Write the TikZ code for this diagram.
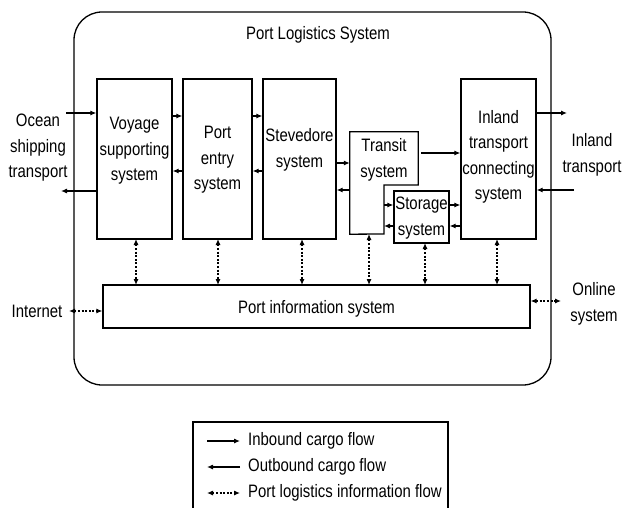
\documentclass[tikz,border=0pt]{standalone}
\usepackage{fontspec}
\setmainfont{Liberation Sans}[FakeStretch=0.83]
\usetikzlibrary{arrows.meta}
\tikzset{
  box/.style={draw, line width=1.3pt, inner sep=0pt},
  lbl/.style={align=center, font=\fontsize{18}{25.5}\selectfont, inner sep=0pt},
  arr/.style={line width=1.1pt, -{Latex[length=6pt,width=5pt]}},
  info/.style={line width=1.1pt, dash pattern=on 2pt off 1.6pt, {Latex[length=6pt,width=5pt]}-{Latex[length=6pt,width=5pt]}},
}
\begin{document}
\begin{tikzpicture}[x=1pt,y=-1pt]
\clip (0,0) rectangle (624,508);
\fill[white] (0,0) rectangle (624,508);
% outer
\node[box, rounded corners=28pt, minimum width=477pt, minimum height=373pt] (outer) at (312.5,198.5) {};
\node[lbl] (title) at (318,35) {Port Logistics System};
% boxes
\node[box, minimum width=75pt, minimum height=160pt] (voy) at (134.5,159) {};
\node[lbl] (voyt) at (134.5,151) {Voyage\\supporting\\system};
\node[box, minimum width=69pt, minimum height=160pt] (pe) at (217.5,159) {};
\node[lbl] (pet) at (217.5,160) {Port\\entry\\system};
\node[box, minimum width=73pt, minimum height=160pt] (st) at (299.5,159) {};
\node[lbl] (stt) at (299.5,150) {Stevedore\\system};
% transit (L-shaped)
\node[minimum width=68pt, minimum height=102pt, inner sep=0pt] (tr) at (384,183) {};
\draw[line width=1.3pt] (tr.north west) -- (tr.north east) -- (tr.east |- 0,185) -- (384,185) -- (384,234) -- (tr.south west) -- cycle;
\node[lbl] (trt) at (384,160) {Transit\\system};
\node[box, minimum width=55pt, minimum height=52pt] (sto) at (421.5,217) {};
\node[lbl] (stot) at (421.5,218) {Storage\\system};
\node[box, minimum width=75pt, minimum height=160pt] (inl) at (498.5,159) {};
\node[lbl] (inlt) at (498.5,157) {Inland\\transport\\connecting\\system};
% PIS
\node[box, minimum width=427pt, minimum height=43pt] (pis) at (316.5,306.5) {};
\node[lbl] (pist) at (316.5,309) {Port information system};
% outside texts
\node[lbl] (ocean) at (38,148) {Ocean\\shipping\\transport};
\node[lbl] (inlx) at (592,155) {Inland\\transport};
\node[lbl] (inet) at (37,311) {Internet};
\node[lbl] (online) at (594,304) {Online\\system};
% free ends
\coordinate (oin) at (66,113);
\coordinate (oout) at (61,191);
\coordinate (iout) at (567,113);
\coordinate (iin) at (574,190);
\coordinate (netc) at (69,311);
\coordinate (onc) at (561,301);
% cargo flows
\draw[arr] (oin) -- (voy.west |- oin);
\draw[arr] (voy.west |- oout) -- (oout);
\draw[arr] (voy.east |- 0,116) -- (pe.west |- 0,116);
\draw[arr] (pe.west |- 0,171) -- (voy.east |- 0,171);
\draw[arr] (pe.east |- 0,116) -- (st.west |- 0,116);
\draw[arr] (st.west |- 0,171) -- (pe.east |- 0,171);
\draw[arr] (st.east |- 0,163) -- (tr.west |- 0,163);
\draw[arr] (tr.west |- 0,190) -- (st.east |- 0,190);
\draw[arr] (384,205) -- (sto.west |- 0,205);
\draw[arr] (sto.west |- 0,226) -- (384,226);
\draw[arr] (sto.east |- 0,205) -- (inl.west |- 0,205);
\draw[arr] (inl.west |- 0,226) -- (sto.east |- 0,226);
\draw[arr] (421,153) -- (inl.west |- 0,153);
\draw[arr] (inl.east |- iout) -- (iout);
\draw[arr] (iin) -- (inl.east |- iin);
% info flows
\draw[info] (136,239) -- (136,285);
\draw[info] (218,239) -- (218,285);
\draw[info] (302,239) -- (302,285);
\draw[info] (369,234) -- (369,285);
\draw[info] (425,243) -- (425,285);
\draw[info] (497,239) -- (497,285);
\draw[info] (netc) -- (pis.west |- netc);
\draw[info] (pis.east |- onc) -- (onc);
% legend
\node[draw, line width=1.1pt, minimum width=255pt, minimum height=100pt, inner sep=0pt] (leg) at (320.5,472) {};
\coordinate (l1a) at (207,441); \coordinate (l1b) at (240,441);
\coordinate (l2a) at (207,467); \coordinate (l2b) at (240,467);
\coordinate (l3a) at (207,493); \coordinate (l3b) at (240,493);
\draw[arr] (l1a) -- (l1b);
\draw[arr] (l2b) -- (l2a);
\draw[info] (l3a) -- (l3b);
\node[lbl, anchor=west] (lt1) at (248,441) {Inbound cargo flow};
\node[lbl, anchor=west] (lt2) at (248,467) {Outbound cargo flow};
\node[lbl, anchor=west] (lt3) at (248,493) {Port logistics information flow};
\end{tikzpicture}
\end{document}
